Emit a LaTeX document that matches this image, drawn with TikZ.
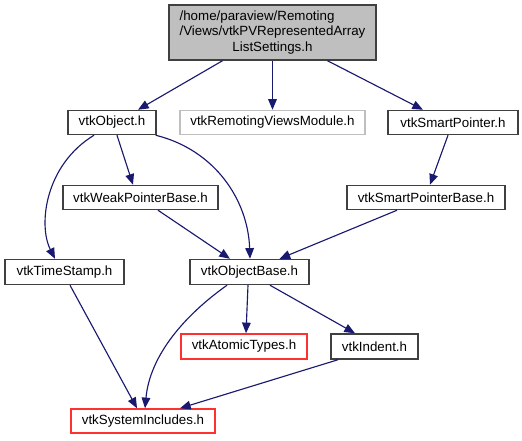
\documentclass[tikz,border=0pt]{standalone}
\usepackage{fontspec}
\setmainfont{Liberation Sans}
\usetikzlibrary{arrows.meta,calc}
\definecolor{edgeblue}{HTML}{191970}
\definecolor{boxborder}{HTML}{404040}
\definecolor{greyfill}{HTML}{BFBFBF}
\definecolor{redborder}{HTML}{FF3030}
\tikzset{
  hbox/.style={draw=boxborder, fill=white, line width=1.1pt, inner sep=0pt, font=\fontsize{10pt}{12pt}\selectfont},
  redbox/.style={hbox, draw=redborder},
  greybox/.style={hbox, draw=greyfill},
  topbox/.style={hbox, fill=greyfill},
  dep/.style={draw=edgeblue, line width=0.85pt, -{Triangle[length=8pt,width=6.5pt]}, fill=none},
}
\begin{document}
\begin{tikzpicture}[x=0.75pt,y=-0.75pt]
\useasboundingbox (0,0) rectangle (522,440);
\node[topbox, minimum width=207*0.75pt, minimum height=55*0.75pt] (top) at (272.5,32.5)
  {\renewcommand{\arraystretch}{0.97}\begin{tabular}{@{}l@{}}/home/paraview/Remoting\\/Views/vtkPVRepresentedArray\\\multicolumn{1}{@{}c@{}}{ListSettings.h}\end{tabular}};
\node[hbox, minimum width=88*0.75pt, minimum height=24*0.75pt] (obj) at (112,122.5) {vtkObject.h};
\node[greybox, minimum width=185*0.75pt, minimum height=24*0.75pt] (rvm) at (272.5,122.5) {vtkRemotingViewsModule.h};
\node[hbox, minimum width=130*0.75pt, minimum height=24*0.75pt] (sp) at (453,122.5) {vtkSmartPointer.h};
\node[hbox, minimum width=155*0.75pt, minimum height=24*0.75pt] (wpb) at (140.5,197.5) {vtkWeakPointerBase.h};
\node[hbox, minimum width=158*0.75pt, minimum height=24*0.75pt] (spb) at (426,197.5) {vtkSmartPointerBase.h};
\node[hbox, minimum width=119*0.75pt, minimum height=25*0.75pt] (ts) at (64.5,272) {vtkTimeStamp.h};
\node[hbox, minimum width=119*0.75pt, minimum height=25*0.75pt] (ob) at (249.5,272) {vtkObjectBase.h};
\node[redbox, minimum width=126*0.75pt, minimum height=25*0.75pt] (at) at (244,346.5) {vtkAtomicTypes.h};
\node[hbox, minimum width=87*0.75pt, minimum height=25*0.75pt] (ind) at (374.5,346.5) {vtkIndent.h};
\node[redbox, minimum width=144*0.75pt, minimum height=24*0.75pt] (si) at (143,421) {vtkSystemIncludes.h};

\draw[dep] ($(top.south)+(-50,0)$) -- ($(obj.north)+(26,0)$);
\draw[dep] (top.south) -- (rvm.north);
\draw[dep] ($(top.south)+(55,0)$) -- ($(sp.north)+(-30,0)$);
\draw[dep] ($(obj.south)+(5,0)$) -- ($(wpb.north)+(-7.5,0)$);
\draw[dep] ($(obj.south)+(-18,0)$) .. controls (45,165) and (38,225) .. ($(ts.north)+(-9.5,0)$);
\draw[dep] ($(obj.south east)+(-1,0)$) .. controls (215,150) and (248,200) .. ($(ob.north)+(0.5,0)$);
\draw[dep] ($(sp.south)+(-5,0)$) -- ($(spb.north)+(4,0)$);
\draw[dep] ($(wpb.south)+(17.5,0)$) -- ($(ob.north)+(-19.5,0)$);
\draw[dep] ($(spb.south)+(-29,0)$) -- ($(ob.north)+(30,0)$);
\draw[dep] ($(ts.south)+(5.5,0)$) -- ($(si.north)+(-6,0)$);
\draw[dep] ($(ob.south)+(-22.5,0)$) .. controls (185,315) and (150,355) .. ($(si.north)+(2,0)$);
\draw[dep] ($(ob.south)+(-1.5,0)$) -- ($(at.north)+(2,0)$);
\draw[dep] ($(ob.south)+(20.5,0)$) -- ($(ind.north)+(-19.5,0)$);
\draw[dep] ($(ind.south)+(-36.5,0)$) -- ($(si.north)+(37,0)$);
\end{tikzpicture}
\end{document}
